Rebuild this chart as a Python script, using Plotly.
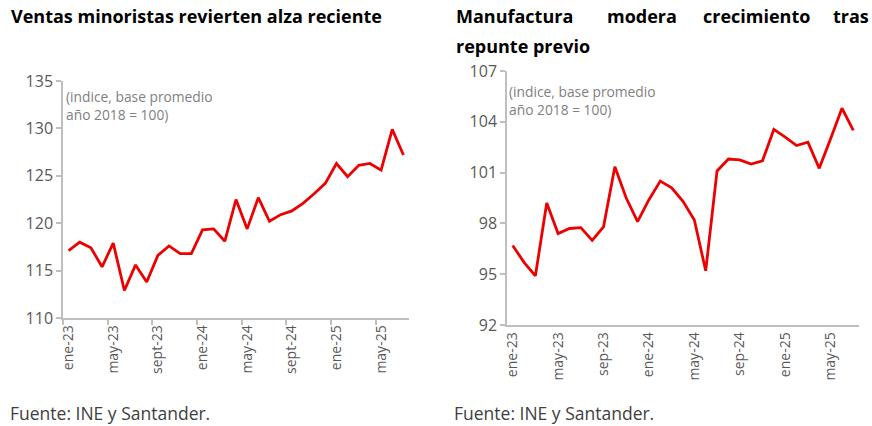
import plotly.graph_objects as go

meses = ["ene", "feb", "mar", "abr", "may", "jun", "jul", "ago", "sept", "oct", "nov", "dic"]
meses_r = ["ene", "feb", "mar", "abr", "may", "jun", "jul", "ago", "sep", "oct", "nov", "dic"]
anios = ["23", "24", "25"]
cat_left = [f"{m}-{a}" for a in anios for m in meses][:31]
cat_right = [f"{m}-{a}" for a in anios for m in meses_r][:31]

ventas = [117.1, 118.0, 117.4, 115.4, 117.9, 112.9, 115.6, 113.8, 116.6, 117.6, 116.8, 116.8,
          119.3, 119.4, 118.1, 122.5, 119.4, 122.7, 120.2, 120.9, 121.3, 122.1, 123.1, 124.2,
          126.3, 124.9, 126.1, 126.3, 125.6, 129.9, 127.2]
manuf = [96.7, 95.7, 94.9, 99.2, 97.4, 97.7, 97.75, 97.0, 97.8, 101.35, 99.5, 98.1,
         99.4, 100.5, 100.1, 99.3, 98.2, 95.2, 101.1, 101.8, 101.75, 101.5, 101.7, 103.55,
         103.1, 102.6, 102.8, 101.25, 103.0, 104.8, 103.5]

yticks_left = [110, 115, 120, 125, 130, 135]
yticks_right = [92, 95, 98, 101, 104, 107]

RED = "#EC0000"
AX = "#BFBFBF"
TXT = "#595959"
FONT = "Open Sans"

fig = go.Figure()
fig.add_trace(go.Scatter(x=cat_left, y=ventas, mode="lines", line=dict(color=RED, width=2.8),
                         xaxis="x", yaxis="y", showlegend=False, hoverinfo="x+y"))
fig.add_trace(go.Scatter(x=cat_right, y=manuf, mode="lines", line=dict(color=RED, width=2.8),
                         xaxis="x2", yaxis="y2", showlegend=False, hoverinfo="x+y"))

common_x = dict(type="category", tickmode="linear", tick0=0, dtick=4, tickangle=-90,
                showgrid=False, zeroline=False, showline=True, linecolor=AX, linewidth=1.5,
                tickfont=dict(family=FONT, size=14, color=TXT), range=[-0.5, 30.5],
                fixedrange=True, automargin=False)
common_y = dict(showgrid=False, zeroline=False, showline=True, linecolor=AX, linewidth=1.5,
                ticks="outside", ticklen=5, tickcolor=AX, tickwidth=1.5,
                tickfont=dict(family=FONT, size=16, color=TXT), fixedrange=True, automargin=False)

fig.update_layout(
    width=872, height=426, autosize=False,
    margin=dict(l=0, r=0, t=0, b=0, pad=0),
    paper_bgcolor="white", plot_bgcolor="white",
    xaxis=dict(domain=[63/872, 409/872], anchor="y", ticks="outside", ticklen=5,
               tickcolor=AX, tickwidth=1.5, tickson="boundaries", **common_x),
    yaxis=dict(domain=[1-318/426, 1-81/426], anchor="x", range=[110, 135],
               tickvals=yticks_left, **common_y),
    xaxis2=dict(domain=[507/872, 859/872], anchor="y2", ticks="", **common_x),
    yaxis2=dict(domain=[1-325/426, 1-71/426], anchor="x2", range=[92, 107],
                tickvals=yticks_right, **common_y),
)

title_font = dict(family=FONT, size=18, color="black")
ann = []
ann.append(dict(text="<b>Ventas minoristas revierten alza reciente</b>", x=9/872, y=1-16/426,
                xanchor="left", yanchor="middle", font=title_font))
for word, xpos, anchor in [("Manufactura", 454, "left"), ("modera", 605, "left"),
                           ("crecimiento", 701, "left"), ("tras", 871, "right")]:
    ann.append(dict(text=f"<b>{word}</b>", x=xpos/872, y=1-16/426, xanchor=anchor,
                    yanchor="middle", font=title_font))
ann.append(dict(text="<b>repunte previo</b>", x=454/872, y=1-46/426, xanchor="left",
                yanchor="middle", font=title_font))

sub_font = dict(family=FONT, size=13.8, color="#808080")
ann.append(dict(text="(indice, base promedio<br>año 2018 = 100)", x=64/872, y=1-85/426,
                xanchor="left", yanchor="top", align="left", font=sub_font))
ann.append(dict(text="(indice, base promedio<br>año 2018 = 100)", x=507/872, y=1-80/426,
                xanchor="left", yanchor="top", align="left", font=sub_font))

src_font = dict(family=FONT, size=17.5, color="#404040")
ann.append(dict(text="Fuente: INE y Santander.", x=8/872, y=1-413/426, xanchor="left",
                yanchor="middle", font=src_font))
ann.append(dict(text="Fuente: INE y Santander.", x=452/872, y=1-413/426, xanchor="left",
                yanchor="middle", font=src_font))

for a in ann:
    a.update(xref="paper", yref="paper", showarrow=False)
fig.update_layout(annotations=ann)

fig.write_html("out.html", config={"displayModeBar": False},
               post_script="document.body.style.margin='0';")
